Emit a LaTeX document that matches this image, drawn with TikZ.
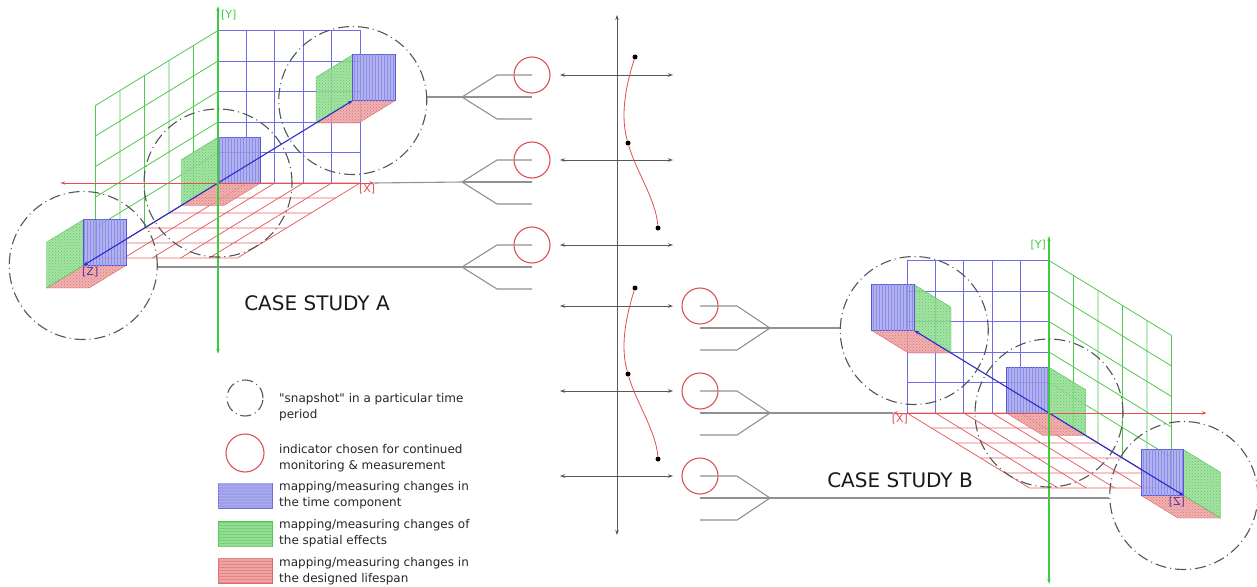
\documentclass[tikz,border=0pt]{standalone}
\usepackage{fontspec}
\setmainfont{DejaVu Sans}[Ligatures=TeXOff]
\usetikzlibrary{arrows.meta,patterns}

\definecolor{gridblue}{RGB}{110,110,235}
\definecolor{gridgreen}{RGB}{80,200,80}
\definecolor{gridred}{RGB}{230,100,100}
\definecolor{axisgreen}{RGB}{60,205,60}
\definecolor{axisred}{RGB}{228,80,80}
\definecolor{axisblue}{RGB}{45,45,205}
\definecolor{zlabel}{RGB}{80,50,170}
\definecolor{faceblue}{RGB}{160,160,230}
\definecolor{facegreen}{RGB}{150,220,150}
\definecolor{facered}{RGB}{235,165,165}
\definecolor{snapgray}{RGB}{85,85,85}
\definecolor{linkgray}{RGB}{145,145,145}
\definecolor{indred}{RGB}{222,80,80}

% one frame: the three grids, the boxes, the axes and the snapshots
\newcommand{\caseframe}[1]{%
  \foreach \i in {0,...,5} {
    \draw[gridblue, line width=0.8pt] (\i,0,0) -- (\i,5,0) (0,\i,0) -- (5,\i,0);
    \draw[gridgreen, line width=0.8pt] (0,\i,0) -- (0,\i,5) (0,0,\i) -- (0,5,\i);
    \draw[gridred, line width=0.8pt] (\i,0,0) -- (\i,0,5) (0,0,\i) -- (5,0,\i);
  }
  \foreach \zz in {-5.5,0,5.5} {
    \filldraw[redface] (0,0,\zz) -- (1.5,0,\zz) -- (1.5,0,\zz+1.5) -- (0,0,\zz+1.5) -- cycle;
    \filldraw[greenface] (0,0,\zz) -- (0,1.5,\zz) -- (0,1.5,\zz+1.5) -- (0,0,\zz+1.5) -- cycle;
    \filldraw[blueface] (0,0,\zz) -- (1.5,0,\zz) -- (1.5,1.5,\zz) -- (0,1.5,\zz) -- cycle;
  }
  \draw[axisblue, line width=1.1pt, <->] (0,0,-5.5) -- (0,0,5.5);
  \draw[axisred, line width=0.9pt, <->] (-5.55,0,0) -- (5.5,0,0);
  \draw[axisgreen, line width=1.1pt, <->] (0,-5.6,0) -- (0,5.8,0);
  \coordinate (#1xend) at (5.5,0,0);
  \foreach \zz/\n in {-5.5/1,0/2,5.5/3}
    \node[snapshot] (#1s\n) at (0,0,\zz) {};
  \node[axislbl, text=axisgreen, anchor=west, xshift=2pt] (#1ylbl) at (0,5.5,0) {[Y]};
  \node[axislbl, text=axisred, anchor=north] (#1xlbl) at (5.25,0,0) {[X]};
  \node[axislbl, text=zlabel, anchor=north, xshift=7pt] (#1zlbl) at (0,0,5.5) {[Z]};
}

\begin{document}
\begin{tikzpicture}[x=1pt, y=-1pt, >={Stealth[length=5pt,width=3.5pt]},
  snapshot/.style={draw=snapgray, circle, minimum size=148pt, inner sep=0pt, line width=1.1pt,
    dash pattern=on 11pt off 4pt on 1pt off 4pt},
  indicator/.style={draw=indred, circle, minimum size=36pt, inner sep=0pt, line width=1.1pt},
  link/.style={draw=linkgray, line width=1.1pt},
  timeaxis/.style={draw=black!65, line width=0.7pt, <->},
  trend/.style={draw=indred, line width=0.8pt},
  tdot/.style={circle, fill=black, inner sep=0pt, minimum size=5pt},
  blueface/.style={fill=faceblue, fill opacity=0.8, draw=axisblue!80, line width=0.6pt,
    postaction={pattern=vertical lines, pattern color=gridblue!80}},
  greenface/.style={fill=facegreen, fill opacity=0.85, draw=gridgreen, line width=0.4pt,
    postaction={pattern=crosshatch dots, pattern color=gridgreen}},
  redface/.style={fill=facered, fill opacity=0.85, draw=gridred, line width=0.4pt,
    postaction={pattern=crosshatch dots, pattern color=gridred}},
  axislbl/.style={font=\fontsize{11}{11}\selectfont, inner sep=1pt, transform shape},
  swatch/.style={minimum width=54pt, minimum height=25pt, inner sep=0pt, line width=0.6pt},
  lgtext/.style={anchor=west, align=left, inner sep=0pt, text=black!85,
    font=\fontsize{12}{16}\selectfont},
  casetitle/.style={font=\fontsize{20}{20}\selectfont, text=black!90}]
\useasboundingbox (0,0) rectangle (1257,586);

% case study A
\begin{scope}[shift={(218,183)}, x={(28.4pt,0pt)}, y={(0pt,30.5pt)}, z={(-24.5pt,-15pt)}]
  \caseframe{A}
\end{scope}
% case study B, mirrored
\begin{scope}[shift={(1049,413)}, xscale=-1, x={(28.4pt,0pt)}, y={(0pt,30.5pt)}, z={(-24.5pt,-15pt)}]
  \caseframe{B}
\end{scope}

\node[casetitle] (titleA) at (317,303) {CASE STUDY A};
\node[casetitle] (titleB) at (900,480) {CASE STUDY B};

% time line with the two trends
\coordinate (ttop) at (617,15);
\coordinate (tbot) at (617,535);
\draw[timeaxis] (ttop) -- (tbot);
\foreach \yy [count=\k] in {75,160,245,306,391,476} {
  \coordinate (tl\k) at (560,\yy);
  \coordinate (tr\k) at (673,\yy);
  \draw[timeaxis] (tl\k) -- (tr\k);
}
\foreach \o/\t in {0/A,231/B} {
  \node[tdot] (d\t1) at (635,57+\o) {};
  \node[tdot] (d\t2) at (628,143+\o) {};
  \node[tdot] (d\t3) at (658,228+\o) {};
  \draw[trend] (d\t1) .. controls +(-9,28) and +(-8,-28) .. (d\t2)
    .. controls +(8,28) and +(-2,-28) .. (d\t3);
}

% indicators and forks, A side
\foreach \k in {1,2,3} {
  \pgfmathsetmacro\yc{75+85*(\k-1)}
  \node[indicator] (iA\k) at (532,\yc) {};
  \coordinate (fA\k) at (462,\yc+22);
  \draw[link] (fA\k) -- ++(35,-22) -- (iA\k.center);
  \draw[link] (fA\k) -- ++(70,0);
  \draw[link] (fA\k) -- ++(35,22) -- ++(35,0);
}
\draw[link] (As1.east |- fA1) -- (fA1);
\draw[link] (Axend) -- (fA2);
\draw[link] (As3.east |- fA3) -- (fA3);

% indicators and forks, B side
\foreach \k in {1,2,3} {
  \pgfmathsetmacro\yc{306+85*(\k-1)}
  \node[indicator] (iB\k) at (700,\yc) {};
  \coordinate (fB\k) at (770,\yc+22);
  \draw[link] (iB\k.center) -- ++(37,0) -- (fB\k);
  \draw[link] (iB\k.center) ++(0,22) -- (fB\k);
  \draw[link] (iB\k.center) ++(0,44) -- ++(37,0) -- (fB\k);
}
\draw[link] (fB1) -- (Bs1.west |- fB1);
\draw[link] (fB2) -- (Bxend);
\draw[link] (fB3) -- (Bs3.west |- fB3);

% legend
\node[snapshot, minimum size=36pt] (lgsnap) at (245,398) {};
\node[indicator, minimum size=38pt] (lgind) at (245,453) {};
\node[swatch, draw=axisblue!70, fill=faceblue, postaction={pattern=horizontal lines, pattern color=gridblue!60}] (lgblue) at (245,495.5) {};
\node[swatch, draw=gridgreen, fill=facegreen, postaction={pattern=horizontal lines, pattern color=gridgreen!80}] (lggreen) at (245,533.5) {};
\node[swatch, draw=gridred, fill=facered, postaction={pattern=horizontal lines, pattern color=gridred!80}] (lgred) at (245,570.5) {};
\node[lgtext] (lt1) at (279,407) {"snapshot" in a particular time\\period};
\node[lgtext] (lt2) at (279,458) {indicator chosen for continued\\monitoring \& measurement};
\node[lgtext] (lt3) at (279,495) {mapping/measuring changes in\\the time component};
\node[lgtext] (lt4) at (279,533) {mapping/measuring changes of\\the spatial effects};
\node[lgtext] (lt5) at (279,571) {mapping/measuring changes in\\the designed lifespan};
\end{tikzpicture}
\end{document}
